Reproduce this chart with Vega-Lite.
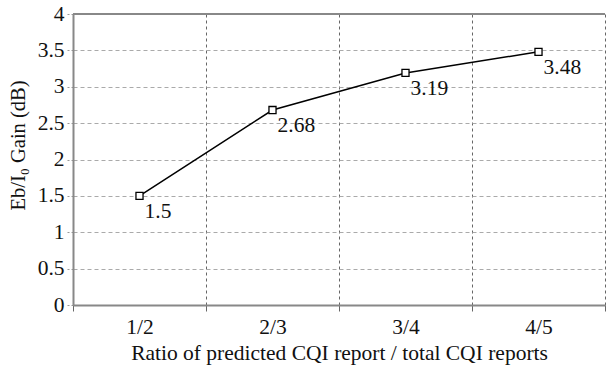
{
  "$schema": "https://vega.github.io/schema/vega-lite/v6.json",
  "width": 532,
  "height": 291,
  "autosize": {"type": "none"},
  "padding": {"left": 73, "top": 14, "right": 2, "bottom": 65},
  "background": "white",
  "config": {
    "view": {"stroke": null},
    "font": "Liberation Serif",
    "axis": {
      "labelFont": "Liberation Serif",
      "titleFont": "Liberation Serif",
      "labelFontSize": 21.5,
      "titleFontSize": 21.5,
      "titleFontWeight": "normal",
      "labelColor": "#111",
      "titleColor": "#111",
      "domainColor": "#888",
      "domainWidth": 2
    }
  },
  "data": {
    "values": [
      {"ratio": "1/2", "gain": 1.5},
      {"ratio": "2/3", "gain": 2.68},
      {"ratio": "3/4", "gain": 3.19},
      {"ratio": "4/5", "gain": 3.48}
    ]
  },
  "encoding": {
    "x": {
      "field": "ratio",
      "type": "ordinal",
      "sort": ["1/2", "2/3", "3/4", "4/5"],
      "scale": {"paddingInner": 0, "paddingOuter": 0},
      "axis": {
        "title": "Ratio of predicted CQI report / total CQI reports",
        "labelAngle": 0,
        "tickBand": "extent",
        "grid": true,
        "gridDash": [3, 3],
        "gridColor": "#666",
        "tickColor": "#666",
        "tickSize": 6,
        "labelPadding": 5,
        "titlePadding": 5
      }
    },
    "y": {
      "field": "gain",
      "type": "quantitative",
      "scale": {"domain": [0, 4], "nice": false},
      "axis": {
        "title": "Eb/I₀ Gain (dB)",
        "titleFontSize": 20.5,
        "titleY": 131,
        "values": [0, 0.5, 1, 1.5, 2, 2.5, 3, 3.5, 4],
        "format": "~g",
        "grid": true,
        "gridDash": [4, 3],
        "gridColor": "#aaa",
        "tickColor": "#999",
        "tickSize": 7,
        "tickDash": [2, 2],
        "labelPadding": 2,
        "titlePadding": 9
      }
    }
  },
  "layer": [
    {
      "mark": {"type": "rule", "color": "#888", "strokeWidth": 2},
      "encoding": {"y": {"datum": 4}, "x": null}
    },
    {
      "mark": {"type": "line", "color": "#000", "strokeWidth": 1.5}
    },
    {
      "mark": {"type": "point", "shape": "square", "filled": true, "fill": "white", "stroke": "black", "strokeWidth": 1.3, "size": 50, "opacity": 1}
    },
    {
      "mark": {"type": "text", "align": "left", "baseline": "top", "dx": 5, "dy": 5, "fontSize": 21.5, "font": "Liberation Serif", "color": "#111"},
      "encoding": {"text": {"field": "gain", "type": "quantitative", "format": "~g"}}
    }
  ]
}
